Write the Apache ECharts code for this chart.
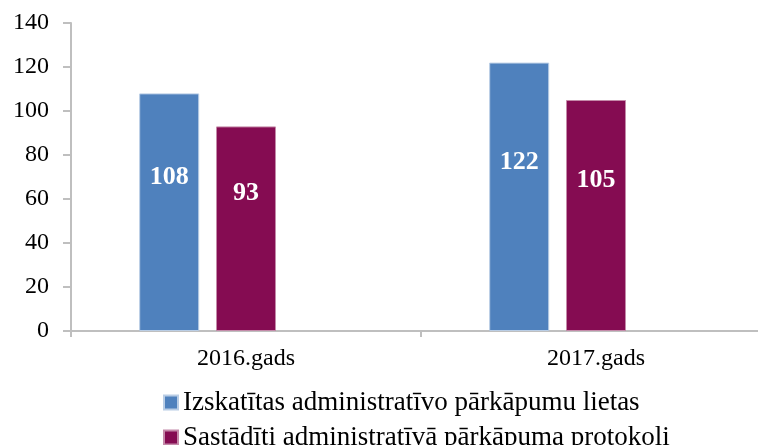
<!DOCTYPE html>
<html>
<head>
<meta charset="utf-8">
<script src="https://cdn.jsdelivr.net/npm/echarts@6/dist/echarts.min.js"></script>
<style>
  html, body { margin: 0; padding: 0; background: #fff; }
  #container { width: 758px; height: 445px; }
</style>
</head>
<body>
<div id="container"></div>
<script>
var categories = ['2016.gads', '2017.gads'];
var seriesNames = ['Izskatītas administratīvo pārkāpumu lietas', 'Sastādīti administratīvā pārkāpuma protokoli'];
var lietas = [108, 122];
var protokoli = [93, 105];
var yTicks = [0, 20, 40, 60, 80, 100, 120, 140];

var myChart = echarts.init(document.getElementById('container'));
var font = '"Liberation Serif", "Times New Roman", serif';

// bar label sits above the bar middle, like in the source
var barLabel = {
    show: true,
    position: 'inside',
    offset: [0, -35],
    color: '#fff',
    fontFamily: font,
    fontWeight: 'bold',
    fontSize: 26
};

myChart.setOption({
    animation: false,
    textStyle: { fontFamily: font },
    // plot runs past the right edge of the picture, as in the source
    grid: { left: 71, right: -13, top: 23, bottom: 114, outerBoundsMode: 'none', containLabel: false },
    legend: {
        data: seriesNames,
        orient: 'vertical',
        left: 163,
        top: 389,
        height: 120,   // otherwise the vertical list wraps into a second column
        padding: 0,
        itemWidth: 14,
        itemHeight: 14,
        itemGap: 8,
        icon: 'rect',
        textStyle: { fontFamily: font, fontSize: 27, color: '#000' }
    },
    xAxis: {
        type: 'category',
        data: categories,
        axisLine: { lineStyle: { color: '#bfbfbf', width: 2 } },
        axisTick: { show: true, length: 6, lineStyle: { color: '#bfbfbf', width: 2 } },
        axisLabel: { color: '#000', fontFamily: font, fontSize: 24, margin: 16 }
    },
    yAxis: {
        type: 'value',
        min: yTicks[0],
        max: yTicks[yTicks.length - 1],
        interval: 20,
        splitLine: { show: false },
        axisLine: { show: true, lineStyle: { color: '#bfbfbf', width: 2 } },
        axisTick: { show: true, length: 8, lineStyle: { color: '#bfbfbf', width: 2 } },
        axisLabel: { color: '#000', fontFamily: font, fontSize: 24, margin: 22 }
    },
    series: [{
        name: seriesNames[0],
        type: 'bar',
        barWidth: 60,
        itemStyle: { color: '#4f81bd', borderColor: '#b9cde5', borderWidth: 1 },
        label: barLabel,
        data: lietas
    }, {
        name: seriesNames[1],
        type: 'bar',
        barWidth: 60,
        itemStyle: { color: '#850c52', borderColor: '#c48aa9', borderWidth: 1 },
        label: barLabel,
        data: protokoli
    }, {
        // empty third slot, keeps the pair shifted left inside each category
        name: 'tukšs',
        type: 'bar',
        barWidth: 60,
        barGap: '28%',
        data: ['-', '-']
    }]
});
</script>
</body>
</html>
